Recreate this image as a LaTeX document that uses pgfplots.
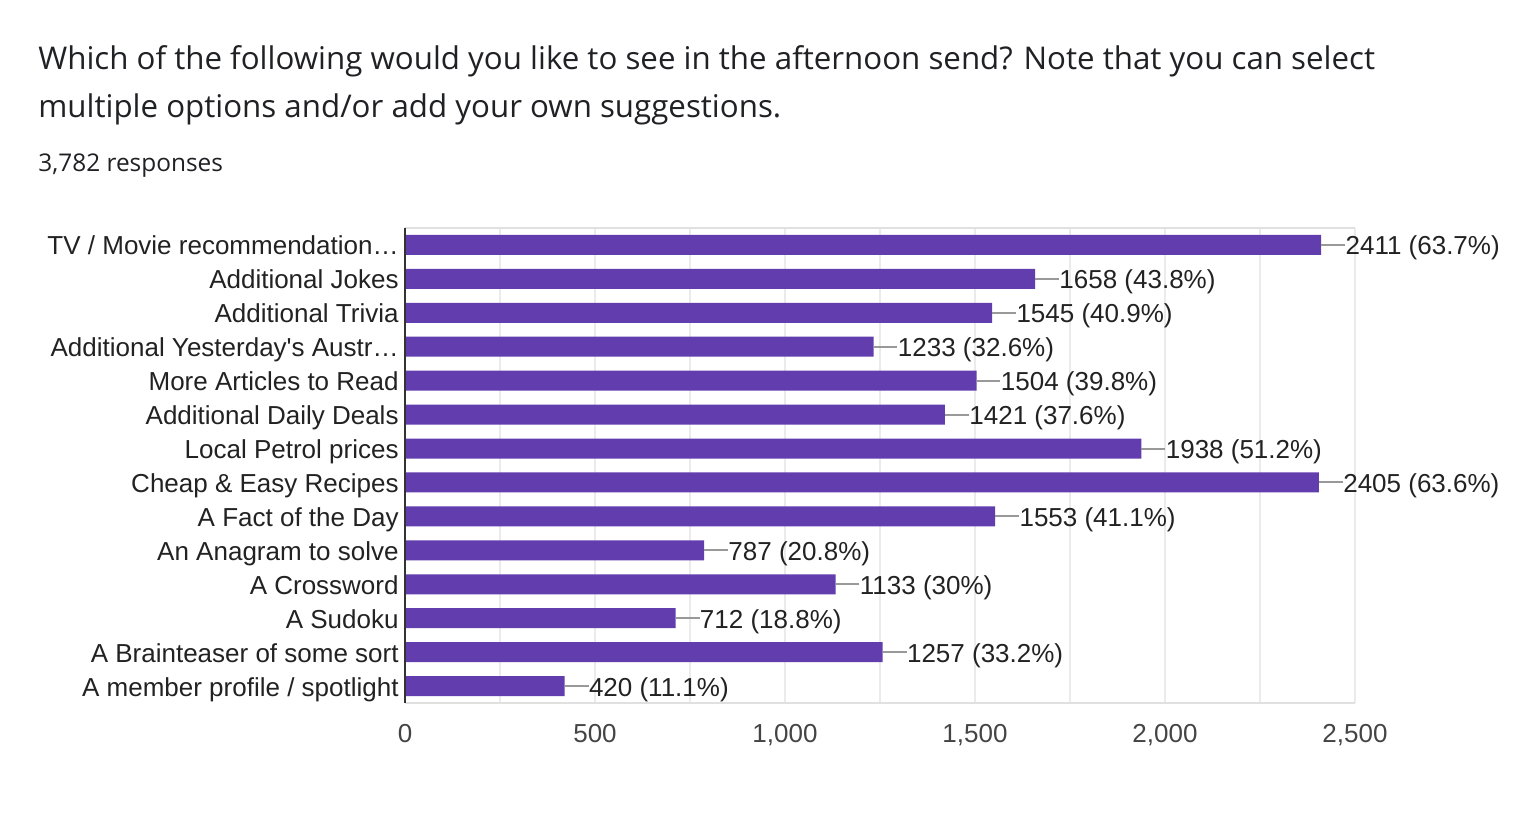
\documentclass[border=0pt]{standalone}
\usepackage{pgfplots}
\pgfplotsset{compat=1.18}
\usepackage{pgfplotstable}
\usepackage{fontspec}
\newfontfamily\arial{Liberation Sans}
\newfontfamily\gsans{Open Sans}
\definecolor{barc}{HTML}{623DAE}
\definecolor{titc}{HTML}{202124}
\definecolor{labc}{HTML}{222222}
\definecolor{tickc}{HTML}{444444}
\definecolor{gridc}{HTML}{EBEBEB}
\definecolor{bordc}{HTML}{E0E0E0}
\definecolor{connc}{HTML}{999999}
\definecolor{axc}{HTML}{333333}

\pgfplotstableread[col sep=comma]{
pos,val,err,lab
0,2411,63,2411 (63.7\%)
1,1658,63,1658 (43.8\%)
2,1545,63,1545 (40.9\%)
3,1233,63,1233 (32.6\%)
4,1504,63,1504 (39.8\%)
5,1421,63,1421 (37.6\%)
6,1938,63,1938 (51.2\%)
7,2405,63,2405 (63.6\%)
8,1553,63,1553 (41.1\%)
9,787,63,787 (20.8\%)
10,1133,63,1133 (30\%)
11,712,63,712 (18.8\%)
12,1257,63,1257 (33.2\%)
13,420,63,420 (11.1\%)
}\datatable

\begin{document}
\begin{tikzpicture}[x=1pt,y=1pt]
\fill[white] (0,0) rectangle (762,417);
\useasboundingbox (0,0) rectangle (762,417);
\node[anchor=base west, inner sep=0pt, font=\gsans\fontsize{15.64}{18}\selectfont, text=titc] at (19,382)
  {Which of the following would you like to see in the afternoon send? Note that you can select};
\node[anchor=base west, inner sep=0pt, font=\gsans\fontsize{15.64}{18}\selectfont, text=titc] at (19,358)
  {multiple options and/or add your own suggestions.};
\node[anchor=base west, inner sep=0pt, font=\gsans\fontsize{12.2}{14}\selectfont, text=titc] at (19,331)
  {3,782 responses};
\begin{axis}[
  at={(202.5pt,65.5pt)}, anchor=south west,
  width=475pt, height=237.5pt, scale only axis,
  xmin=0, xmax=2500, ymin=-0.5, ymax=13.5, y dir=reverse,
  axis line style={draw=none},
  xtick={0,500,...,2500}, minor x tick num=1,
  xmajorgrids, xminorgrids,
  major grid style={gridc, line width=1pt},
  minor grid style={gridc, line width=1pt},
  major tick length=0pt, minor tick length=0pt,
  ytick={0,...,13},
  yticklabels={TV / Movie recommendation…, Additional Jokes, Additional Trivia, Additional Yesterday's Austr…, More Articles to Read, Additional Daily Deals, Local Petrol prices, Cheap \& Easy Recipes, A Fact of the Day, An Anagram to solve, A Crossword, A Sudoku, A Brainteaser of some sort, A member profile / spotlight},
  yticklabel style={font=\arial\fontsize{13}{15}\selectfont, text=labc, inner sep=0pt, anchor=base east, xshift=-3pt, yshift=-5pt},
  xticklabel style={font=\arial\fontsize{13}{15}\selectfont, text=tickc, inner sep=0pt, anchor=north, yshift=-10.5pt},
  scaled x ticks=false,
  /pgf/number format/assume math mode=true,
  xticklabel={\pgfmathprintnumber[1000 sep={,}, assume math mode=true]{\tick}},
  point meta=explicit symbolic,
  nodes near coords,
  every node near coord/.append style={font=\arial\fontsize{13}{15}\selectfont, text=labc, inner sep=0pt, anchor=base west, xshift=12pt, yshift=-5pt},
  clip=false,
]
\addplot[xbar, bar width=10pt, fill=barc, draw=none,
  error bars/.cd, x dir=plus, x explicit, error mark=none,
  error bar style={connc, line width=1pt}]
  table[x=val, y=pos, x error=err, meta=lab] {\datatable};
\draw[bordc, line width=1pt] (axis cs:0,-0.5) -- (axis cs:2500,-0.5);
\draw[bordc, line width=1pt] (axis cs:0,13.5) -- (axis cs:2500,13.5);
\draw[axc, line width=1pt] (axis cs:0,-0.5) -- (axis cs:0,13.5);
\end{axis}
\end{tikzpicture}
\end{document}
